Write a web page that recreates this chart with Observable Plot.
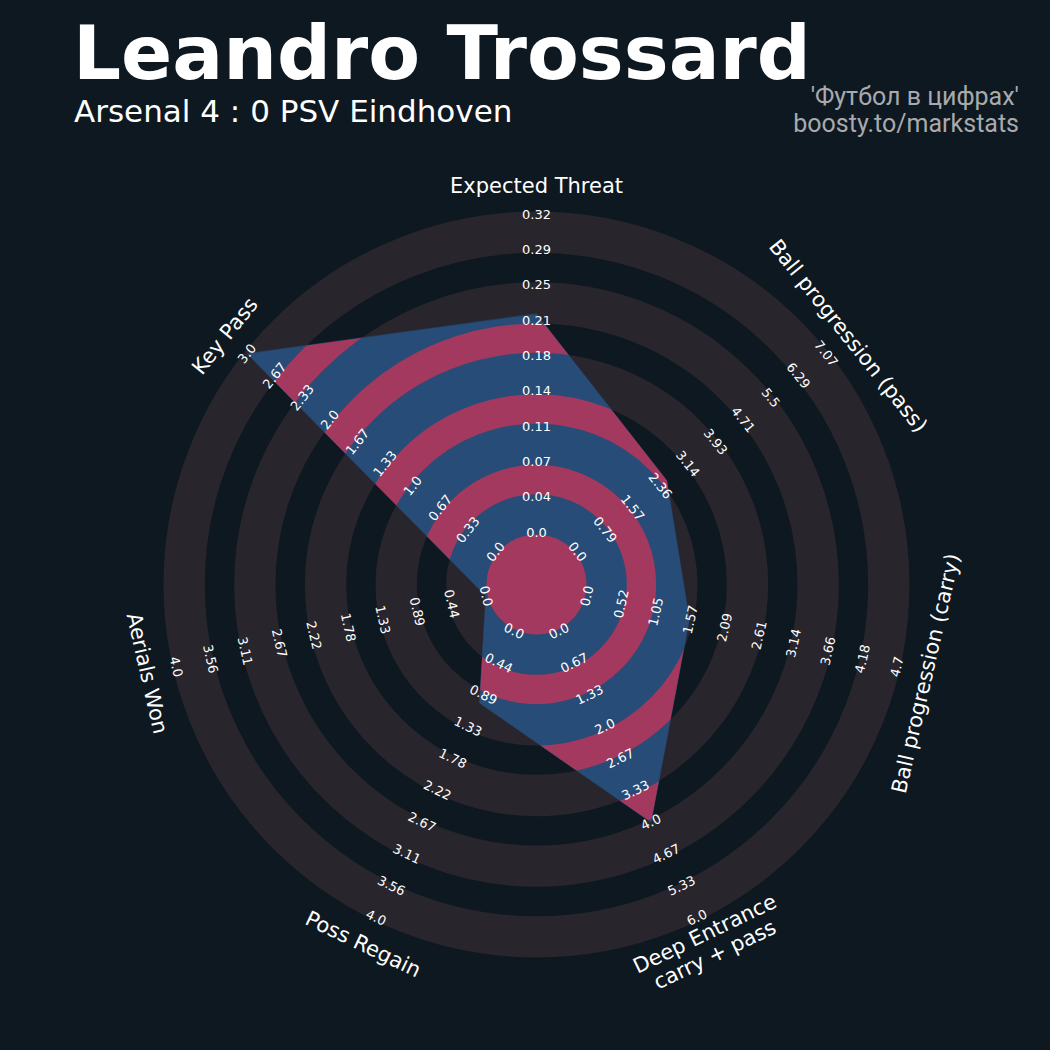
<!DOCTYPE html>
<html><head><meta charset="utf-8">
<script src="https://cdn.jsdelivr.net/npm/d3@7"></script>
<script src="https://cdn.jsdelivr.net/npm/@observablehq/plot@0.6"></script>
<style>
html,body{margin:0;padding:0;background:#0e1820;}
#wrap{position:relative;width:1050px;height:1050px;overflow:hidden;background:#0e1820;}
#header{position:relative;width:1050px;height:160px;}
.t{position:absolute;line-height:1;white-space:nowrap;}
#title{left:73px;top:16px;font-family:"DejaVu Sans";font-weight:bold;font-size:75.5px;color:#ffffff;}
#subtitle{left:74px;top:96px;font-family:"DejaVu Sans";font-size:31px;color:#ffffff;}
.src{right:31px;font-family:Roboto;font-size:25px;color:#a9aaad;text-align:right;}
#src1{top:84px;}
#src2{top:111px;}
#chart svg{display:block;}
</style></head>
<body>
<div id="wrap">
  <div id="header">
    <div class="t" id="title">Leandro Trossard</div>
    <div class="t" id="subtitle">Arsenal 4 : 0 PSV Eindhoven</div>
    <div class="t src" id="src1">'Футбол в цифрах'</div>
    <div class="t src" id="src2">boosty.to/markstats</div>
  </div>
  <div id="chart"></div>
</div>
<script>
// ---- data ----
const params = ["Expected Threat", "Ball progression (pass)", "Ball progression (carry)", "Deep Entrance\ncarry + pass", "Poss Regain", "Aerials Won", "Key Pass"];
const lows = [0, 0, 0, 0, 0, 0, 0];
const highs = [0.32, 7.07, 4.7, 6.0, 4.0, 4.0, 3.0];
const values = [0.22, 2.55, 1.55, 4.0, 1.0, 0.0, 3.0];
const tickLabels = [
  ["0.0","0.04","0.07","0.11","0.14","0.18","0.21","0.25","0.29","0.32"],
  ["0.0","0.79","1.57","2.36","3.14","3.93","4.71","5.5","6.29","7.07"],
  ["0.0","0.52","1.05","1.57","2.09","2.61","3.14","3.66","4.18","4.7"],
  ["0.0","0.67","1.33","2.0","2.67","3.33","4.0","4.67","5.33","6.0"],
  ["0.0","0.44","0.89","1.33","1.78","2.22","2.67","3.11","3.56","4.0"],
  ["0.0","0.44","0.89","1.33","1.78","2.22","2.67","3.11","3.56","4.0"],
  ["0.0","0.33","0.67","1.0","1.33","1.67","2.0","2.33","2.67","3.0"]
];

// ---- layout / style ----
const W = 1050, H = 890, CX = 536, CY = 424;
const R0 = 52, R1 = 370, PAD = 3, CENTER_R = 50, LABEL_R = 399;
const BG = "#0e1820", GREY = "#28252c", BLUE = "#264c77", PINK = "#a3395e";

const n = params.length;
const theta = i => i * 2 * Math.PI / n;
const rAt = f => R0 + f * (R1 - R0);
const polar = (r, i) => ({x: r * Math.sin(theta(i)), y: r * Math.cos(theta(i))});
const rot = i => {
  let d = i * 360 / n;
  if (d > 90 && d < 270) d -= 180;
  else if (d >= 270) d -= 360;
  return d;
};

const nTicks = tickLabels[0].length;
const greyBands = [], darkBands = [];
for (let k = 0; k + 1 < nTicks; k++) {
  let inner = rAt(k / (nTicks - 1)), outer = rAt((k + 1) / (nTicks - 1));
  if (k % 2 === 0) { inner = (k === 0 ? CENTER_R : inner - PAD); outer += PAD; greyBands.push({r: (inner + outer) / 2, w: outer - inner}); }
  else { inner += PAD; outer -= PAD; darkBands.push({r: (inner + outer) / 2, w: outer - inner}); }
}

const poly = values.map((v, i) => polar(rAt((v - lows[i]) / (highs[i] - lows[i])), i));

const ticks = [];
tickLabels.forEach((labs, i) => labs.forEach((t, k) => {
  const p = polar(rAt(k / (labs.length - 1)), i);
  ticks.push({...p, text: t, rotate: rot(i)});
}));
const paramLabels = params.map((p, i) => ({...polar(LABEL_R, i), text: p, rotate: rot(i)}));

const svg = Plot.plot({
  width: W, height: H, margin: 0,
  style: {background: BG, color: "white"},
  x: {domain: [-CX, W - CX], range: [0, W], axis: null},
  y: {domain: [-(H - CY), CY], range: [H, 0], axis: null},
  r: {type: "identity"},
  marks: [
    Plot.dot(greyBands, {x: () => 0, y: () => 0, r: "r", strokeWidth: "w", stroke: GREY, fill: "none"}),
    Plot.line(poly, {x: "x", y: "y", curve: "linear-closed", fill: BLUE, stroke: BLUE, strokeWidth: 0.5, ariaDescription: "radar-polygon"}),
    Plot.dot(darkBands, {x: () => 0, y: () => 0, r: "r", strokeWidth: "w", stroke: PINK, fill: "none", ariaDescription: "radar-bands"}),
    Plot.dot([0], {x: () => 0, y: () => 0, r: () => CENTER_R, fill: PINK, stroke: "none"}),
    Plot.text(ticks, {x: "x", y: "y", text: "text", rotate: "rotate", fill: "#ffffff", fontSize: 13, fontFamily: "DejaVu Sans", textAnchor: "middle", lineAnchor: "middle"}),
    Plot.text(paramLabels, {x: "x", y: "y", text: "text", rotate: "rotate", fill: "#ffffff", fontSize: 21, fontFamily: "DejaVu Sans", textAnchor: "middle", lineAnchor: "middle", lineHeight: 1.1})
  ]
});

// clip the inner bands to the radar polygon
const polyG = svg.querySelector('g[aria-description="radar-polygon"]');
const bands = svg.querySelector('g[aria-description="radar-bands"]');
const polyPath = polyG && polyG.querySelector("path");
if (polyPath && bands) {
  const ns = "http://www.w3.org/2000/svg";
  const defs = document.createElementNS(ns, "defs");
  const cp = document.createElementNS(ns, "clipPath");
  cp.setAttribute("id", "radar-clip");
  const p = document.createElementNS(ns, "path");
  p.setAttribute("d", polyPath.getAttribute("d"));
  const tr = polyG.getAttribute("transform");
  if (tr) p.setAttribute("transform", tr);
  cp.appendChild(p); defs.appendChild(cp);
  svg.insertBefore(defs, svg.firstChild);
  const wrapper = document.createElementNS(ns, "g");
  wrapper.setAttribute("clip-path", "url(#radar-clip)");
  bands.parentNode.insertBefore(wrapper, bands);
  wrapper.appendChild(bands);
}
document.getElementById("chart").appendChild(svg);
</script>
</body></html>
